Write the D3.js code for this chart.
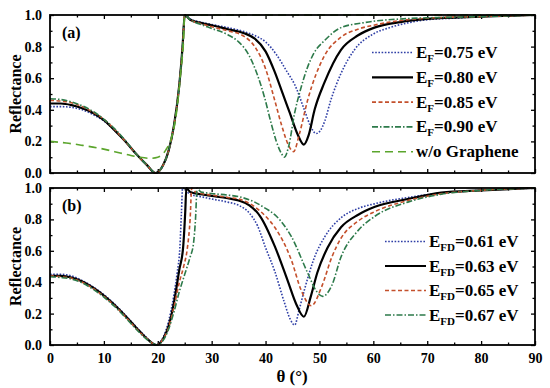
<!DOCTYPE html>
<html>
<head>
<meta charset="utf-8">
<script src="https://d3js.org/d3.v7.min.js"></script>
<style>
  body { margin: 0; background: #fff; }
  svg text { font-family: "Times New Roman", Times, "Liberation Serif", serif; font-weight: bold; fill: #000; }
  .tick text { font-size: 14px; }
</style>
</head>
<body>
<svg id="chart" width="550" height="388"></svg>
<script>
// ---- data: [theta (deg), reflectance] ----
// panel (a): Fermi energy of graphene
const aEF075 = [[0,0.42],[2,0.42],[4,0.415],[6,0.4],[8,0.37],[10,0.33],[12,0.27],[14,0.2],[16,0.12],[18,0.05],[19.6,0],[21,0.05],[22,0.14],[23,0.3],[24,0.56],[24.6,0.8],[25,1],[26,0.975],[28,0.955],[30,0.94],[33,0.92],[36,0.895],[38,0.87],[40,0.83],[42,0.75],[44,0.64],[45.4,0.56],[47.2,0.4],[48.3,0.3],[49.4,0.25],[50.2,0.27],[51,0.33],[52.1,0.46],[54,0.63],[56.5,0.78],[60,0.88],[63,0.92],[66.4,0.95],[70,0.97],[75,0.98],[80,0.99],[90,1]];
const aEF080 = [[0,0.44],[2,0.44],[4,0.43],[6,0.41],[8,0.38],[10,0.335],[12,0.27],[14,0.2],[16,0.12],[18,0.05],[19.6,0],[21,0.05],[22,0.14],[23,0.3],[24,0.56],[24.6,0.8],[25,1],[26,0.97],[28,0.95],[30,0.935],[33,0.91],[36,0.885],[38,0.85],[40,0.77],[41.7,0.64],[43,0.52],[44.5,0.38],[46,0.24],[47.1,0.18],[48,0.24],[49.1,0.4],[50.9,0.57],[54,0.78],[57.1,0.87],[60.2,0.92],[65,0.955],[70,0.975],[80,0.99],[90,1]];
const aEF085 = [[0,0.46],[2,0.455],[4,0.445],[6,0.42],[8,0.385],[10,0.34],[12,0.275],[14,0.2],[16,0.12],[18,0.05],[19.6,0],[21,0.05],[22,0.14],[23,0.3],[24,0.56],[24.6,0.8],[25,1],[26,0.97],[28,0.945],[30,0.925],[33,0.9],[36,0.865],[38,0.8],[40,0.66],[41.7,0.46],[43,0.3],[44.2,0.18],[45.2,0.135],[46.3,0.25],[47.8,0.46],[50.9,0.74],[54,0.86],[57.1,0.91],[60,0.935],[65,0.965],[70,0.98],[80,0.99],[90,1]];
const aEF090 = [[0,0.47],[2,0.465],[4,0.45],[6,0.425],[8,0.39],[10,0.34],[12,0.28],[14,0.205],[16,0.12],[18,0.05],[19.6,0],[21,0.05],[22,0.14],[23,0.3],[24,0.56],[24.6,0.8],[25,1],[26,0.97],[28,0.94],[30,0.915],[33,0.875],[35,0.83],[37,0.74],[38.5,0.62],[39.8,0.48],[41,0.32],[42,0.2],[43,0.12],[43.5,0.1],[44.3,0.17],[45.4,0.38],[46.5,0.53],[47.8,0.67],[49,0.76],[51,0.84],[54,0.92],[58,0.95],[65,0.975],[80,0.99],[90,1]];
const aNoGraphene = [[0,0.2],[3,0.19],[6,0.175],[9.3,0.156],[12,0.135],[14.5,0.115],[16.6,0.1],[18.5,0.093],[20,0.1],[21.5,0.146],[22.5,0.22],[23.3,0.34],[24.3,0.65],[24.8,0.85],[25,1],[90,1]];

// panel (b): doped Fermi energy
const bEFD061 = [[0,0.45],[2,0.45],[4,0.44],[6,0.41],[8,0.37],[10,0.32],[12,0.26],[14,0.19],[16,0.115],[18,0.045],[19.6,0],[21,0.05],[22,0.15],[23,0.32],[23.6,0.46],[24.1,0.62],[24.4,0.85],[24.6,1],[26,0.96],[28,0.945],[30,0.93],[33,0.91],[35,0.89],[37,0.84],[38.5,0.76],[40,0.62],[41.7,0.47],[43.5,0.27],[44.5,0.17],[45.4,0.127],[46.2,0.22],[47.2,0.35],[49.1,0.56],[51,0.69],[54,0.81],[57.2,0.87],[60.3,0.9],[66.4,0.94],[72,0.965],[80,0.985],[90,1]];
const bEFD063 = [[0,0.44],[2,0.44],[4,0.43],[6,0.405],[8,0.365],[10,0.315],[12,0.255],[14,0.185],[16,0.11],[18,0.04],[19.7,0],[21,0.04],[22,0.12],[23,0.27],[24,0.48],[24.7,0.62],[25.1,0.85],[25.3,1],[26,0.975],[28,0.96],[30,0.95],[33,0.935],[35,0.92],[37,0.89],[39,0.82],[41.7,0.63],[44.1,0.41],[45.7,0.26],[47.1,0.18],[48.4,0.31],[49.6,0.46],[51.5,0.62],[54,0.75],[57.2,0.83],[60.3,0.88],[66.4,0.93],[72.6,0.97],[80,0.985],[90,1]];
const bEFD065 = [[0,0.44],[2,0.435],[4,0.425],[6,0.4],[8,0.36],[10,0.31],[12,0.25],[14,0.18],[16,0.105],[18,0.04],[19.8,0],[21,0.04],[22,0.11],[23,0.24],[24,0.4],[24.8,0.5],[25.5,0.62],[26,0.8],[26.3,1],[27,0.975],[28,0.965],[30,0.955],[33,0.94],[35,0.93],[38,0.88],[40,0.82],[41.7,0.75],[44.8,0.54],[46.6,0.35],[48.5,0.25],[50.4,0.37],[52.3,0.56],[54,0.68],[57.2,0.79],[60.3,0.85],[66.4,0.92],[72,0.96],[80,0.985],[90,1]];
const bEFD067 = [[0,0.435],[2,0.43],[4,0.42],[6,0.395],[8,0.355],[10,0.305],[12,0.245],[14,0.175],[16,0.1],[18,0.035],[19.9,0],[21,0.03],[22,0.1],[23,0.21],[24,0.34],[25,0.45],[26,0.56],[26.6,0.64],[27,0.8],[27.3,1],[28,0.975],[30,0.965],[33,0.955],[35,0.945],[38,0.91],[40,0.87],[41.7,0.83],[44.8,0.69],[47.8,0.46],[49.5,0.34],[50.6,0.31],[52.3,0.38],[54,0.56],[57.2,0.73],[60.3,0.82],[66.4,0.91],[72.6,0.96],[80,0.985],[90,1]];

const xMajor = [0,10,20,30,40,50,60,70,80,90];
const xMinor = [5,15,25,35,45,55,65,75,85];
const yMajor = [0,0.2,0.4,0.6,0.8,1.0];
const yMinor = [0.1,0.3,0.5,0.7,0.9];

const legendA = [
  {sub: "F", rest: "=0.75 eV", data: aEF075, style: "blue"},
  {sub: "F", rest: "=0.80 eV", data: aEF080, style: "black"},
  {sub: "F", rest: "=0.85 eV", data: aEF085, style: "red"},
  {sub: "F", rest: "=0.90 eV", data: aEF090, style: "green"},
  {label: "w/o Graphene", data: aNoGraphene, style: "lime"}
];
const legendB = [
  {sub: "FD", rest: "=0.61 eV", data: bEFD061, style: "blue"},
  {sub: "FD", rest: "=0.63 eV", data: bEFD063, style: "black"},
  {sub: "FD", rest: "=0.65 eV", data: bEFD065, style: "red"},
  {sub: "FD", rest: "=0.67 eV", data: bEFD067, style: "green"}
];

const styles = {
  blue:  {color: "#2f3fa6", width: 1.6, dash: "1.6,1.6"},
  black: {color: "#000000", width: 2.2, dash: null},
  red:   {color: "#c4502c", width: 1.6, dash: "4,2.5"},
  green: {color: "#2d7a4a", width: 1.6, dash: "6,2,1.5,2"},
  lime:  {color: "#5ba52c", width: 1.6, dash: "8,5"}
};

const svg = d3.select("#chart");
const left = 50, right = 535;
const x = d3.scaleLinear().domain([0, 90]).range([left, right]);

function panel(top, bottom, series, letter, showX, legendPos) {
  const y = d3.scaleLinear().domain([0, 1]).range([bottom, top]);
  const g = svg.append("g");
  const clipId = "clip" + letter;
  svg.append("clipPath").attr("id", clipId)
    .append("rect").attr("x", left).attr("y", top - 1)
    .attr("width", right - left).attr("height", bottom - top + 2);

  // ticks, inward on all four sides
  const axes = [
    [d3.axisBottom(x).tickValues(xMajor).tickSize(-4), "translate(0," + bottom + ")", showX],
    [d3.axisBottom(x).tickValues(xMinor).tickSize(-2.5), "translate(0," + bottom + ")", false],
    [d3.axisTop(x).tickValues(xMajor).tickSize(-4), "translate(0," + top + ")", false],
    [d3.axisTop(x).tickValues(xMinor).tickSize(-2.5), "translate(0," + top + ")", false],
    [d3.axisLeft(y).tickValues(yMajor).tickSize(-4).tickFormat(d3.format(".1f")), "translate(" + left + ",0)", true],
    [d3.axisLeft(y).tickValues(yMinor).tickSize(-2.5), "translate(" + left + ",0)", false],
    [d3.axisRight(y).tickValues(yMajor).tickSize(-4), "translate(" + right + ",0)", false],
    [d3.axisRight(y).tickValues(yMinor).tickSize(-2.5), "translate(" + right + ",0)", false]
  ];
  axes.forEach(([ax, tr, labels]) => {
    if (!labels) ax.tickFormat("");
    const a = g.append("g").attr("transform", tr)
      .call(ax.tickPadding(labels ? 8 : 0));
    a.attr("font-family", null).attr("font-size", null);
    a.select(".domain").remove();
    a.selectAll("line").attr("stroke", "#000").attr("stroke-width", 1.3);
  });

  // curves
  const line = d3.line().x(d => x(d[0])).y(d => y(d[1])).curve(d3.curveMonotoneX);
  const lines = svg.append("g").attr("clip-path", "url(#" + clipId + ")");
  series.forEach(s => {
    const st = styles[s.style];
    lines.append("path").datum(s.data)
      .attr("fill", "none").attr("stroke", st.color)
      .attr("stroke-width", st.width)
      .attr("stroke-dasharray", st.dash)
      .attr("d", line);
  });

  // frame
  svg.append("rect").attr("x", left).attr("y", top)
    .attr("width", right - left).attr("height", bottom - top)
    .attr("fill", "none").attr("stroke", "#000").attr("stroke-width", 1.8);

  svg.append("text").attr("x", 62).attr("y", top + 23)
    .style("font-size", "16px").text("(" + letter + ")");

  svg.append("text")
    .attr("transform", "translate(21," + (top + bottom) / 2 + ") rotate(-90)")
    .attr("text-anchor", "middle").style("font-size", "16px").text("Reflectance");

  // legend
  const lg = svg.append("g");
  series.forEach((s, i) => {
    const st = styles[s.style];
    const ly = legendPos.y + i * legendPos.step;
    lg.append("line").attr("x1", legendPos.x1).attr("x2", legendPos.x2)
      .attr("y1", ly).attr("y2", ly)
      .attr("stroke", st.color).attr("stroke-width", st.width)
      .attr("stroke-dasharray", st.dash);
    const t = lg.append("text").attr("x", legendPos.x2 + 3).attr("y", ly + 5.5)
      .style("font-size", "17px");
    if (s.label) {
      t.text(s.label);
    } else {
      t.append("tspan").text("E");
      t.append("tspan").attr("dy", 4).style("font-size", "11px").text(s.sub);
      t.append("tspan").attr("dy", -4).text(s.rest);
    }
  });
  return y;
}

panel(15, 173, legendA, "a", false, {x1: 372, x2: 413, y: 52.5, step: 24.8});
panel(188, 345, legendB, "b", true, {x1: 385, x2: 426, y: 241.5, step: 24.5});

svg.append("text").attr("x", 292).attr("y", 382)
  .attr("text-anchor", "middle").style("font-size", "17px").text("θ (°)");
</script>
</body>
</html>
